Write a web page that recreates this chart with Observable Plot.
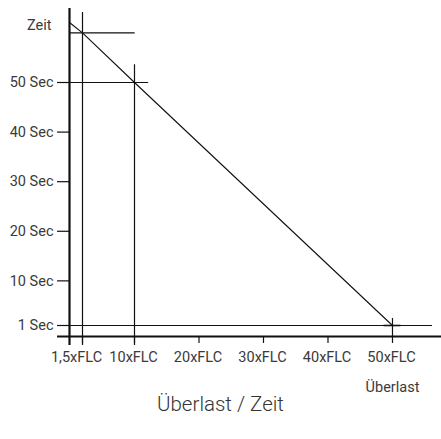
<!DOCTYPE html>
<html>
<head>
<meta charset="utf-8">
<script src="https://cdn.jsdelivr.net/npm/d3@7"></script>
<script src="https://cdn.jsdelivr.net/npm/@observablehq/plot@0.6"></script>
<style>
  html, body { margin: 0; padding: 0; background: #fff; }
  #chart { width: 441px; height: 396px; }
  #title { width: 441px; text-align: center; font-family: Roboto, "Liberation Sans", sans-serif; font-weight: 300; font-size: 20.5px; color: #333; margin-top: -4px; line-height: 24px; }
</style>
</head>
<body>
<div id="chart"></div>
<div id="title"></div>
<script>
// Data
const overload = [0, 1.5, 10, 50];          // x (multiples of FLC)
const seconds  = [62.1, 60, 50, 1];          // trip time (s)
const xTickValues = [1.5, 10, 20, 30, 40, 50];
const xTickLabels = ["1,5xFLC", "10xFLC", "20xFLC", "30xFLC", "40xFLC", "50xFLC"];
const yTickValues = [1, 10, 20, 30, 40, 50];
const yTickLabels = ["1 Sec", "10 Sec", "20 Sec", "30 Sec", "40 Sec", "50 Sec"];
const yAxisTitle = "Zeit";
const xAxisTitle = "Überlast";
const chartTitle = "Überlast / Zeit";

const curve = overload.map((x, i) => ({x, y: seconds[i]}));
const xTicks = xTickValues.map((v, i) => ({v, label: xTickLabels[i]}));
const yTicks = yTickValues.map((v, i) => ({v, label: yTickLabels[i]}));

const xBase = -1.22; // level of the x axis line
const font = "Roboto, 'Liberation Sans', sans-serif";
const fs = 14.5;
const tc = "#3a3a3a";

const chart = Plot.plot({
  width: 441,
  height: 396,
  margin: 0,
  style: {fontFamily: font, fontSize: "14px", color: "#333", background: "#fff", overflow: "visible"},
  x: {type: "linear", domain: [0, 1.5, 10, 57.6], range: [69, 82, 134, 441], axis: null},
  y: {type: "linear", domain: [1, 50], range: [325, 82], axis: null},
  marks: [
    // guide lines
    Plot.ruleX([1.5], {y1: xBase - 1.8, y2: 64.1, stroke: "#111", strokeWidth: 1.2}),
    Plot.ruleX([10], {y1: xBase - 1.8, y2: 53.6, stroke: "#111", strokeWidth: 1.2}),
    Plot.ruleY([60], {x1: 0, x2: 10.1, stroke: "#111", strokeWidth: 1.2}),
    Plot.ruleY([50], {x1: -1.38, x2: 12.2, stroke: "#111", strokeWidth: 1.2}),
    Plot.ruleY([1], {x1: -1.38, x2: 56.2, stroke: "#111", strokeWidth: 1.2}),
    Plot.ruleX([50], {y1: xBase, y2: 2.4, stroke: "#111", strokeWidth: 1.2}),
    Plot.ruleY([1], {x1: 48.7, x2: 51.3, stroke: "#111", strokeWidth: 1.6}),
    // y tick marks
    Plot.ruleY(yTicks, {y: "v", x1: -1.38, x2: 0, stroke: "#111", strokeWidth: 1.2}),
    // x tick marks
    Plot.ruleX(xTicks, {x: "v", y1: xBase, y2: xBase - 1.4, stroke: "#111", strokeWidth: 1.2}),
    // axis lines
    Plot.ruleX([0], {y1: -3.03, y2: 64.9, stroke: "#111", strokeWidth: 2.2}),
    Plot.ruleY([xBase], {x1: -1.38, x2: 57.6, stroke: "#111", strokeWidth: 2.2}),
    // curve
    Plot.line(curve, {x: "x", y: "y", stroke: "#111", strokeWidth: 1.1}),
    // labels
    Plot.text(yTicks, {x: 0, y: "v", text: "label", textAnchor: "end", dx: -16, fill: tc, fontSize: fs, fontFamily: font}),
    Plot.text([yAxisTitle], {x: 0, y: 61.5, text: d => d, textAnchor: "end", dx: -18, fill: tc, fontSize: fs, fontFamily: font}),
    Plot.text(xTicks.slice(0, 1), {x: "v", y: xBase, text: "label", dy: 21, dx: -6, fill: tc, fontSize: fs, fontFamily: font}),
    Plot.text(xTicks.slice(1), {x: "v", y: xBase, text: "label", dy: 21, dx: -1, fill: tc, fontSize: fs, fontFamily: font}),
    Plot.text([xAxisTitle], {x: 50, y: xBase, text: d => d, dy: 51, fill: tc, fontSize: fs, fontFamily: font})
  ]
});
document.getElementById("chart").appendChild(chart);
document.getElementById("title").textContent = chartTitle;
</script>
</body>
</html>
